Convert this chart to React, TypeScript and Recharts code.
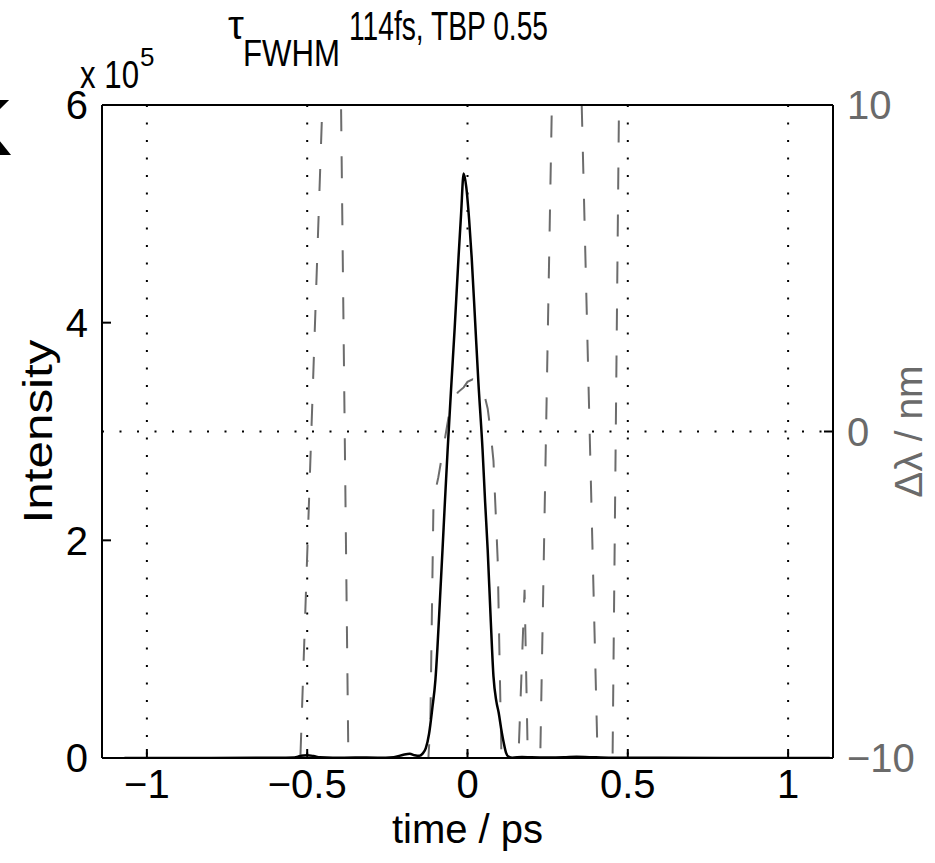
import { ComposedChart, Line, XAxis, YAxis, CartesianGrid } from 'recharts';

// time axis (ps)
const timeTicks = [-1, -0.5, 0, 0.5, 1];
// left axis, intensity in units of 10^5
const intensityTicks = [0, 2, 4, 6];
// right axis, wavelength shift in nm
const chirpTicks = [-10, 0, 10];

// pulse intensity (x 10^5)
const intensityTime = [
  -1.07, -0.8, -0.6, -0.54, -0.52, -0.5, -0.48, -0.46, -0.42, -0.35, -0.28, -0.23,
  -0.2, -0.18, -0.165, -0.15, -0.14, -0.13, -0.12, -0.11, -0.1, -0.094, -0.086,
  -0.078, -0.07, -0.062, -0.05, -0.04, -0.028, -0.02, -0.012, -0.004, 0.005, 0.013,
  0.024, 0.034, 0.047, 0.055, 0.063, 0.072, 0.081, 0.09, 0.097, 0.105, 0.113, 0.12,
  0.128, 0.14, 0.17, 0.2, 0.25, 0.3, 0.34, 0.38, 0.45, 0.6, 0.8, 1.13,
];
const intensityValue = [
  0, 0, 0.002, 0.005, 0.02, 0.025, 0.018, 0.006, 0.002, 0.004, 0.003, 0.008,
  0.03, 0.038, 0.025, 0.02, 0.04, 0.09, 0.22, 0.45, 0.72, 1.0, 1.45,
  1.91, 2.38, 2.83, 3.45, 3.95, 4.6, 5.0, 5.37, 5.25, 4.95, 4.6,
  4.0, 3.45, 2.83, 2.35, 1.91, 1.3, 0.75, 0.52, 0.42, 0.27, 0.14, 0.05,
  0.012, 0.003, 0.01, 0.006, 0.004, 0.006, 0.012, 0.008, 0.002, 0.002, 0, 0,
];

// wavelength shift (nm); values beyond +-10 run off the axes
const chirpTime = [
  -1.07, -0.523, -0.451, -0.395, -0.371, -0.125, -0.116, -0.106, -0.091, -0.07,
  -0.053, -0.03, -0.012, 0, 0.016, 0.032, 0.047, 0.063, 0.072, 0.081, 0.088,
  0.094, 0.097, 0.1, 0.103, 0.107, 0.157, 0.178, 0.189, 0.226, 0.264, 0.355,
  0.407, 0.452, 0.473, 1.13,
];
const chirpValue = [
  -20, -10.5, 10.5, 10.5, -10.5, -10.5, -9.0, -2.1, -1.4, -0.2,
  0.8, 1.2, 1.35, 1.52, 1.6, 1.55, 1.35, 0.7, 0, -0.9, -2.5,
  -3.9, -5.4, -7.0, -8.5, -10.5, -10.5, -4.85, -10.5, -10.5, 10.5, 10.5,
  -10.5, -10.5, 10.5, 20,
];

const intensityData = intensityTime.map((t, i) => ({ t, v: intensityValue[i] }));
const chirpData = chirpTime.map((t, i) => ({ t, v: chirpValue[i] }));

const FONT = '"Liberation Sans", Arial, Helvetica, sans-serif';
const minus = (v: number) => (v < 0 ? `\u2212${Math.abs(v)}` : String(v));

export default function App() {
  return (
    <div style={{ position: 'relative', width: 935, height: 863, background: '#fff', fontFamily: FONT }}>
      <style>{'body{margin:0}'}</style>
      <ComposedChart width={935} height={863} margin={{ top: 105, right: 0, bottom: 0, left: 0 }}>
        <CartesianGrid
          xAxisId="time"
          yAxisId="chirp"
          stroke="#000"
          strokeWidth={2}
          strokeDasharray="2 15.5"
        />
        <XAxis
          xAxisId="time"
          dataKey="t"
          type="number"
          domain={[-1.14, 1.14]}
          ticks={timeTicks}
          interval={0}
          allowDataOverflow
          height={105}
          tickSize={-9}
          tickMargin={21}
          tickFormatter={minus}
          stroke="#000"
          strokeWidth={2}
          tick={{ fontSize: 40, fill: '#000', fontFamily: FONT }}
          label={{ value: 'time / ps', position: 'insideBottom', offset: 20, fontSize: 40, fill: '#000', fontFamily: FONT }}
        />
        {/* top edge of the box, with the time ticks mirrored inward */}
        <XAxis
          xAxisId="timeTop"
          dataKey="t"
          orientation="top"
          mirror
          type="number"
          domain={[-1.14, 1.14]}
          ticks={timeTicks}
          interval={0}
          allowDataOverflow
          height={9}
          tickSize={9}
          tick={false}
          stroke="#000"
          strokeWidth={2}
        />
        <YAxis
          yAxisId="intensity"
          type="number"
          domain={[0, 6]}
          ticks={intensityTicks}
          interval={0}
          allowDataOverflow
          width={102}
          tickSize={-9}
          tickMargin={23}
          stroke="#000"
          strokeWidth={2}
          tick={{ fontSize: 40, fill: '#000', fontFamily: FONT }}
          label={{
            value: 'Intensity', angle: -90, position: 'insideLeft', offset: 38, fontSize: 40, fill: '#000',
            fontFamily: FONT, textLength: 184, lengthAdjust: 'spacingAndGlyphs', style: { textAnchor: 'middle' },
          }}
        />
        {/* left-axis ticks mirrored on the right edge */}
        <YAxis
          yAxisId="intensityMirror"
          orientation="right"
          mirror
          type="number"
          domain={[0, 6]}
          ticks={intensityTicks}
          interval={0}
          allowDataOverflow
          width={9}
          tickSize={9}
          tick={false}
          axisLine={false}
          stroke="#000"
          strokeWidth={2}
        />
        <YAxis
          yAxisId="chirp"
          orientation="right"
          type="number"
          domain={[-10, 10]}
          ticks={chirpTicks}
          interval={0}
          allowDataOverflow
          width={102}
          tickSize={-9}
          tickMargin={23}
          tickFormatter={minus}
          stroke="#000"
          strokeWidth={2}
          tick={{ fontSize: 40, fill: '#6a6a6a', fontFamily: FONT }}
          label={{ value: '\u0394\u03bb / nm', angle: -90, position: 'insideRight', offset: 27, fontSize: 39, fill: '#6a6a6a', fontFamily: FONT, style: { textAnchor: 'middle' } }}
        />
        {/* invisible copy so the mirrored axes have a series bound to them */}
        <Line
          xAxisId="timeTop"
          yAxisId="intensityMirror"
          data={intensityData}
          dataKey="v"
          stroke="none"
          dot={false}
          activeDot={false}
          legendType="none"
          isAnimationActive={false}
        />
        <Line
          xAxisId="time"
          yAxisId="chirp"
          data={chirpData}
          dataKey="v"
          type="linear"
          stroke="#6c6c6c"
          strokeWidth={2}
          strokeDasharray="22 25"
          dot={false}
          activeDot={false}
          isAnimationActive={false}
        />
        <Line
          xAxisId="time"
          yAxisId="intensity"
          data={intensityData}
          dataKey="v"
          type="monotone"
          stroke="#000"
          strokeWidth={2.5}
          dot={false}
          activeDot={false}
          isAnimationActive={false}
        />
      </ComposedChart>
      <svg
        width={935}
        height={863}
        style={{ position: 'absolute', left: 0, top: 0, pointerEvents: 'none', overflow: 'hidden' }}
        fontFamily={FONT}
      >
        <text x={-46} y={155} fontSize={80} fontWeight={700} fill="#000">K</text>
        <text x={228} y={39} fontSize={40} fill="#000">τ</text>
        <text x={243} y={66} fontSize={37} fill="#000" textLength={97} lengthAdjust="spacingAndGlyphs">FWHM</text>
        <text x={349} y={40} fontSize={40} fill="#000" textLength={199} lengthAdjust="spacingAndGlyphs">114fs, TBP 0.55</text>
        <text x={80} y={88} fontSize={38} fill="#000" textLength={59} lengthAdjust="spacingAndGlyphs">x 10</text>
        <text x={140} y={66} fontSize={26} fill="#000">5</text>
      </svg>
    </div>
  );
}
